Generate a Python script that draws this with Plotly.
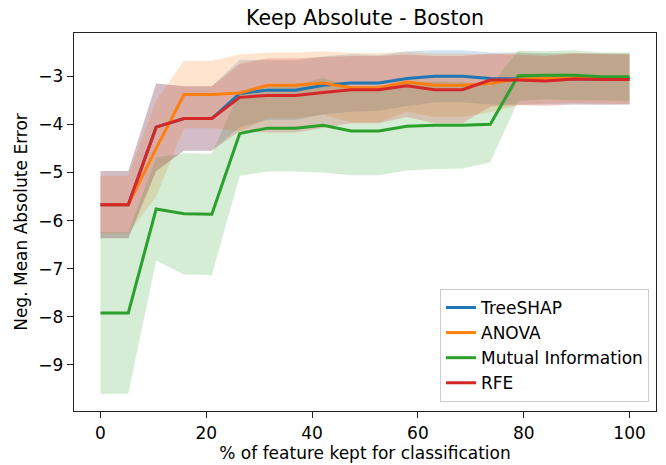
import plotly.graph_objects as go

x_pct = [i * 100 / 19 for i in range(20)]

treeshap = [-5.67, -5.67, -4.06, -3.88, -3.88, -3.36, -3.29, -3.29, -3.19, -3.14,
            -3.14, -3.05, -3.00, -3.00, -3.05, -3.05, -3.06, -3.06, -3.06, -3.06]
treeshap_std = [0.70, 0.70, 0.91, 0.67, 0.67, 0.70, 0.62, 0.62, 0.60, 0.60,
                0.58, 0.57, 0.54, 0.54, 0.54, 0.54, 0.53, 0.53, 0.53, 0.53]

anova = [-5.67, -5.67, -4.50, -3.38, -3.38, -3.35, -3.19, -3.19, -3.14, -3.24,
         -3.24, -3.12, -3.19, -3.19, -3.15, -3.06, -3.05, -3.04, -3.05, -3.06]
anova_std = [0.60, 0.60, 1.00, 0.70, 0.70, 0.80, 0.68, 0.68, 0.66, 0.72,
             0.72, 0.62, 0.66, 0.66, 0.60, 0.55, 0.52, 0.52, 0.52, 0.52]

mutual_info = [-7.92, -7.92, -5.76, -5.86, -5.87, -4.19, -4.08, -4.08, -4.02, -4.14,
               -4.14, -4.04, -4.02, -4.02, -4.00, -2.99, -2.98, -2.98, -3.01, -3.01]
mutual_info_std = [1.68, 1.68, 1.07, 1.26, 1.26, 0.88, 0.90, 0.90, 0.98, 0.92,
                   0.92, 0.92, 0.91, 0.90, 0.79, 0.52, 0.50, 0.52, 0.50, 0.50]

rfe = [-5.67, -5.67, -4.06, -3.88, -3.88, -3.44, -3.40, -3.40, -3.34, -3.28,
       -3.28, -3.20, -3.28, -3.28, -3.08, -3.08, -3.10, -3.06, -3.07, -3.07]
rfe_std = [0.70, 0.70, 0.91, 0.67, 0.67, 0.70, 0.77, 0.77, 0.74, 0.70,
           0.70, 0.65, 0.70, 0.70, 0.55, 0.52, 0.52, 0.53, 0.53, 0.52]

series = [
    ("TreeSHAP", treeshap, treeshap_std, "#1f77b4", "rgba(31,119,180,0.2)"),
    ("ANOVA", anova, anova_std, "#ff7f0e", "rgba(255,127,14,0.2)"),
    ("Mutual Information", mutual_info, mutual_info_std, "#2ca02c", "rgba(44,160,44,0.2)"),
    ("RFE", rfe, rfe_std, "#d62728", "rgba(214,39,40,0.2)"),
]

fig = go.Figure()
for name, m, s, col, fcol in series:
    upper = [a + b for a, b in zip(m, s)]
    lower = [a - b for a, b in zip(m, s)]
    fig.add_trace(go.Scatter(
        x=x_pct + x_pct[::-1], y=upper + lower[::-1],
        fill="toself", fillcolor=fcol, line=dict(width=0),
        mode="lines", showlegend=False, hoverinfo="skip"))
for name, m, s, col, fcol in series:
    fig.add_trace(go.Scatter(
        x=x_pct, y=m, mode="lines", name=name,
        line=dict(color=col, width=3)))

FS = 17
axis_common = dict(
    showline=True, linecolor="#222222", linewidth=1.4, mirror=True,
    ticks="outside", ticklen=6, tickwidth=1.4, tickcolor="#222222",
    showgrid=False, zeroline=False, automargin=False,
    tickfont=dict(family="DejaVu Sans", size=FS, color="black"),
)

fig.update_layout(
    width=666, height=465,
    paper_bgcolor="white", plot_bgcolor="white",
    margin=dict(l=74, r=10, t=33, b=54),
    font=dict(family="DejaVu Sans", color="black"),
    title=dict(text="Keep Absolute - Boston", x=(74 + 656) / 2 / 666, xanchor="center",
               y=1 - 18 / 465, yanchor="middle",
               font=dict(family="DejaVu Sans", size=20.5, color="black")),
    xaxis=dict(range=[-5, 105], tickvals=[0, 20, 40, 60, 80, 100],
               title=dict(text="% of feature kept for classification",
                          font=dict(family="DejaVu Sans", size=FS), standoff=4),
               **axis_common),
    yaxis=dict(range=[-9.957, -2.103], tickvals=[-9, -8, -7, -6, -5, -4, -3],
               title=dict(text="Neg. Mean Absolute Error",
                          font=dict(family="DejaVu Sans", size=FS), standoff=6),
               **axis_common),
    legend=dict(x=0.988, xanchor="right", y=0.024, yanchor="bottom",
                bgcolor="rgba(255,255,255,0.8)", bordercolor="#cccccc", borderwidth=1,
                font=dict(family="DejaVu Sans", size=FS, color="black"),
                tracegroupgap=0, itemwidth=30),
)

fig.write_html("out.html",
               config={"displayModeBar": False},
               post_script="document.body.style.margin='0px';document.body.style.padding='0px';")
